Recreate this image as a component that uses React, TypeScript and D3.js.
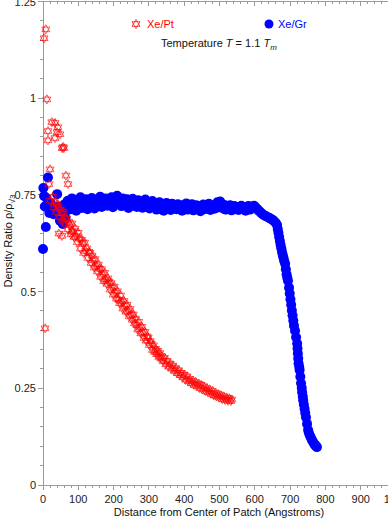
import React from 'react';
import * as d3 from 'd3';

// Xe/Pt (open red stars): [distance in Angstroms, density ratio]
const xePt: [number, number][] = [
  [3, 1.155], [8, 1.178], [11, 0.997], [14, 0.915], [14, 0.891], [25, 0.938], [34, 0.936],
  [34, 0.897], [40, 0.912], [42, 0.925], [48, 0.907], [54, 0.871], [57, 0.874], [59, 0.871],
  [20, 0.816], [65, 0.80], [17, 0.778], [71, 0.778], [20, 0.735], [45, 0.65], [54, 0.644],
  [82, 0.657], [6, 0.405],
  [28, 0.745], [31, 0.718], [34, 0.731], [37, 0.706], [40, 0.725], [43, 0.719], [46, 0.692],
  [49, 0.712], [52, 0.703], [55, 0.683], [58, 0.707], [61, 0.676], [64, 0.69], [67, 0.688],
  [70, 0.661], [73, 0.679], [76, 0.672], [79, 0.648], [82, 0.676], [85, 0.655], [88, 0.641],
  [91, 0.663], [94, 0.644], [97, 0.628], [100, 0.652], [103, 0.637], [106, 0.611], [109, 0.634],
  [112, 0.626], [115, 0.6], [118, 0.627], [121, 0.605], [124, 0.612], [127, 0.587], [130, 0.603],
  [133, 0.6], [136, 0.574], [139, 0.593], [142, 0.581], [145, 0.562], [148, 0.584], [151, 0.566],
  [154, 0.552], [157, 0.57], [160, 0.559], [163, 0.538], [166, 0.558], [169, 0.544], [172, 0.527],
  [175, 0.549], [178, 0.531], [181, 0.52], [184, 0.534], [187, 0.526], [190, 0.505], [193, 0.522],
  [196, 0.51], [199, 0.492], [202, 0.513], [205, 0.497], [208, 0.482], [211, 0.501], [214, 0.479],
  [217, 0.47], [220, 0.49], [223, 0.474], [226, 0.456], [229, 0.476], [232, 0.463], [235, 0.448],
  [238, 0.466], [241, 0.45], [244, 0.436], [247, 0.455], [250, 0.44], [253, 0.427], [256, 0.441],
  [259, 0.418], [262, 0.43], [265, 0.414], [268, 0.402], [271, 0.422], [274, 0.407], [277, 0.392],
  [280, 0.409], [283, 0.395], [286, 0.38], [289, 0.396], [292, 0.373], [295, 0.384], [298, 0.381],
  [301, 0.362], [304, 0.372], [307, 0.366], [310, 0.349], [313, 0.361], [316, 0.344], [319, 0.352],
  [322, 0.338], [325, 0.347], [328, 0.331], [331, 0.341], [334, 0.327], [337, 0.333], [340, 0.32],
  [344, 0.329], [348, 0.312], [352, 0.321], [356, 0.306], [360, 0.314], [364, 0.301], [368, 0.309],
  [372, 0.295], [376, 0.302], [380, 0.289], [384, 0.297], [388, 0.284], [392, 0.29], [396, 0.278],
  [400, 0.285], [404, 0.272], [408, 0.281], [412, 0.268], [416, 0.274], [420, 0.263], [424, 0.27],
  [428, 0.259], [432, 0.266], [436, 0.256], [440, 0.262], [444, 0.251], [448, 0.259], [452, 0.247],
  [456, 0.255], [460, 0.243], [464, 0.25], [468, 0.24], [472, 0.247], [476, 0.236], [480, 0.243],
  [484, 0.232], [488, 0.238], [492, 0.229], [496, 0.235], [500, 0.226], [504, 0.232], [508, 0.222],
  [512, 0.229], [516, 0.22], [520, 0.226], [524, 0.218], [528, 0.224], [532, 0.217], [535, 0.221],
];

// Xe/Gr (filled blue circles)
const xeGr: [number, number][] = [
  [0, 0.61], [1, 0.768], [3, 0.747], [5, 0.72], [8, 0.667], [10, 0.742], [14, 0.795], [18, 0.703],
  [22, 0.728], [26, 0.715], [30, 0.70], [35, 0.705], [40, 0.752], [44, 0.72], [48, 0.683],
  [52, 0.71], [56, 0.675], [60, 0.725], [64, 0.69], [68, 0.73],
  [70, 0.735], [74, 0.712], [78, 0.728], [82, 0.741], [86, 0.718], [90, 0.73], [94, 0.709],
  [98, 0.737], [102, 0.722], [106, 0.744], [110, 0.716], [114, 0.731], [118, 0.725], [122, 0.739],
  [126, 0.713], [130, 0.734], [134, 0.721], [138, 0.742], [142, 0.727], [146, 0.715], [150, 0.738],
  [154, 0.724], [158, 0.733], [162, 0.745], [166, 0.719], [170, 0.736], [174, 0.728], [178, 0.741],
  [182, 0.722], [186, 0.737], [190, 0.73], [194, 0.744], [198, 0.718], [202, 0.735], [206, 0.726],
  [210, 0.748], [214, 0.729], [218, 0.738], [222, 0.721], [226, 0.741], [230, 0.732], [234, 0.725],
  [238, 0.739], [242, 0.716], [246, 0.734], [250, 0.727], [254, 0.74], [258, 0.722], [262, 0.731],
  [266, 0.719], [270, 0.736], [274, 0.724], [278, 0.733], [282, 0.717], [286, 0.728], [290, 0.738],
  [294, 0.721], [298, 0.73], [302, 0.715], [306, 0.726], [310, 0.734], [314, 0.72], [318, 0.728],
  [322, 0.712], [326, 0.725], [330, 0.731], [334, 0.718], [338, 0.727], [342, 0.709], [346, 0.722],
  [350, 0.729], [354, 0.716], [358, 0.724], [362, 0.711], [366, 0.727], [370, 0.719], [374, 0.722],
  [378, 0.713], [382, 0.726], [386, 0.717], [390, 0.721], [394, 0.709], [398, 0.724], [402, 0.716],
  [406, 0.728], [410, 0.712], [414, 0.72], [418, 0.715], [422, 0.726], [426, 0.71], [430, 0.719],
  [434, 0.723], [438, 0.714], [442, 0.721], [446, 0.708], [450, 0.718], [454, 0.725], [458, 0.713],
  [462, 0.72], [466, 0.716], [470, 0.727], [474, 0.711], [478, 0.719], [482, 0.722], [486, 0.714],
  [490, 0.726], [494, 0.731], [498, 0.718], [502, 0.733], [506, 0.72], [510, 0.715], [514, 0.724],
  [518, 0.712], [522, 0.719], [526, 0.716], [530, 0.723], [534, 0.71], [538, 0.718], [542, 0.721],
  [546, 0.713], [550, 0.719], [554, 0.711], [558, 0.717], [562, 0.722], [566, 0.714], [570, 0.718],
  [574, 0.709], [578, 0.716], [582, 0.721], [586, 0.712], [590, 0.718], [594, 0.72], [598, 0.722],
  [602, 0.718], [606, 0.714], [610, 0.71], [614, 0.707], [618, 0.703], [622, 0.70], [627, 0.697],
  [632, 0.695], [637, 0.692], [642, 0.69], [647, 0.687], [651, 0.685], [655, 0.682], [659, 0.678],
  [663, 0.672], [665, 0.662], [667, 0.652], [669, 0.641], [671, 0.631], [673, 0.621], [675, 0.612],
  [677, 0.603], [679, 0.595], [681, 0.588], [683, 0.58], [686, 0.572], [688, 0.558], [690, 0.545],
  [692, 0.536], [694, 0.528], [697, 0.51], [699, 0.495], [701, 0.48], [703, 0.466], [705, 0.451],
  [707, 0.438], [709, 0.425], [711, 0.412], [714, 0.399], [717, 0.382], [720, 0.366], [721, 0.353],
  [722, 0.34], [723, 0.327], [724, 0.314], [726, 0.305], [727, 0.297], [729, 0.28], [731, 0.263],
  [733, 0.251], [734, 0.24], [736, 0.229], [737, 0.219], [739, 0.208], [741, 0.197], [743, 0.186],
  [745, 0.175], [748, 0.158], [751, 0.142], [753, 0.135], [756, 0.128], [759, 0.122], [762, 0.116],
  [765, 0.111], [768, 0.107], [771, 0.103], [773, 0.101], [776, 0.098],
];

const xMajor = [0, 100, 200, 300, 400, 500, 600, 700, 800, 900, 1000];
const yMajor = [0, 0.25, 0.5, 0.75, 1, 1.25];
const yTickLabels = ['0', '0.25', '0.5', '0.75', '1', '1.25'];

const W = 388;
const H = 519;
const FONT = 'Liberation Sans, Arial, Helvetica, sans-serif';
const AXIS = '#9a9a9a';

const hexagram = (r: number) => {
  const tri = (a0: number) =>
    [0, 1, 2]
      .map(i => {
        const a = ((a0 + i * 120) * Math.PI) / 180;
        return `${i === 0 ? 'M' : 'L'}${(r * Math.cos(a)).toFixed(2)},${(r * Math.sin(a)).toFixed(2)}`;
      })
      .join('') + 'Z';
  return tri(-90) + tri(90);
};

export default function App() {
  const x = d3.scaleLinear().domain([0, 1000]).range([43, 396]);
  const y = d3.scaleLinear().domain([0, 1.25]).range([485, 1.5]);
  const xMinor = d3.range(0, 1001, 20).filter(v => v % 100 !== 0);
  const yMinor = d3.range(0, 1.2501, 0.05).filter(v => Math.abs(v / 0.25 - Math.round(v / 0.25)) > 1e-6);
  const star = hexagram(4.6);
  const x0 = x(0), x1 = x(1000), y0 = y(0), y1 = y(1.25);

  return (
    <svg width={W} height={H} style={{ position: 'absolute', left: 0, top: 0, background: '#fff' }} fontFamily={FONT}>
      {/* frame */}
      <g stroke={AXIS} strokeWidth={1} fill="none" shapeRendering="crispEdges">
        <line x1={x0} x2={x1} y1={y0} y2={y0} />
        <line x1={x0} x2={x1} y1={y1} y2={y1} />
        <line x1={x0} x2={x0} y1={y0} y2={y1} />
        <line x1={x1} x2={x1} y1={y0} y2={y1} />
        {xMajor.map(v => (
          <g key={'xM' + v}>
            <line x1={x(v)} x2={x(v)} y1={y0} y2={y0 + 5} />
            <line x1={x(v)} x2={x(v)} y1={y1} y2={y1 + 4} />
          </g>
        ))}
        {xMinor.map(v => (
          <g key={'xm' + v}>
            <line x1={x(v)} x2={x(v)} y1={y0} y2={y0 + 3} />
            <line x1={x(v)} x2={x(v)} y1={y1} y2={y1 + 2.5} />
          </g>
        ))}
        {yMajor.map(v => (
          <line key={'yM' + v} x1={x0 - 5} x2={x0} y1={y(v)} y2={y(v)} />
        ))}
        {yMinor.map(v => (
          <line key={'ym' + v} x1={x0 - 3} x2={x0} y1={y(v)} y2={y(v)} />
        ))}
      </g>

      {/* tick labels */}
      <g fontSize={11} fill="#222">
        {xMajor.map(v => (
          <text key={'xl' + v} x={x(v)} y={503} textAnchor="middle">{v}</text>
        ))}
        {yMajor.map((v, i) => (
          <text key={'yl' + v} x={36} y={y(v) + 4} textAnchor="end">{yTickLabels[i]}</text>
        ))}
      </g>

      {/* axis titles */}
      <text x={219} y={516} fontSize={11} textAnchor="middle" fill="#111">
        Distance from Center of Patch (Angstroms)
      </text>
      <text transform="translate(12,241) rotate(-90)" fontSize={11} textAnchor="middle" fill="#111">
        Density Ratio ρ/ρ<tspan fontSize={8} dy={3}>√3</tspan>
      </text>

      {/* data */}
      <g fill="#0000ff">
        {xeGr.map(([d, r], i) => (
          <circle key={'g' + i} cx={x(d)} cy={y(r)} r={5} />
        ))}
      </g>
      <g fill="none" stroke="#ff0000" strokeWidth={0.7} strokeOpacity={0.9}>
        {xePt.map(([d, r], i) => (
          <path key={'p' + i} d={star} transform={`translate(${x(d)},${y(r)})`} />
        ))}
      </g>

      {/* legend */}
      <path d={star} transform="translate(136,24)" fill="none" stroke="#ff0000" strokeWidth={0.7} />
      <text x={147} y={28} fontSize={11} fill="#ff0000">Xe/Pt</text>
      <circle cx={269} cy={24} r={4.5} fill="#0000ff" />
      <text x={278} y={28} fontSize={11} fill="#0000ff">Xe/Gr</text>
      <text x={161} y={47} fontSize={11} fill="#111">
        Temperature <tspan fontStyle="italic">T</tspan> = 1.1 <tspan fontStyle="italic">T</tspan>
        <tspan fontStyle="italic" fontSize={8} dy={3}>m</tspan>
      </text>
    </svg>
  );
}
